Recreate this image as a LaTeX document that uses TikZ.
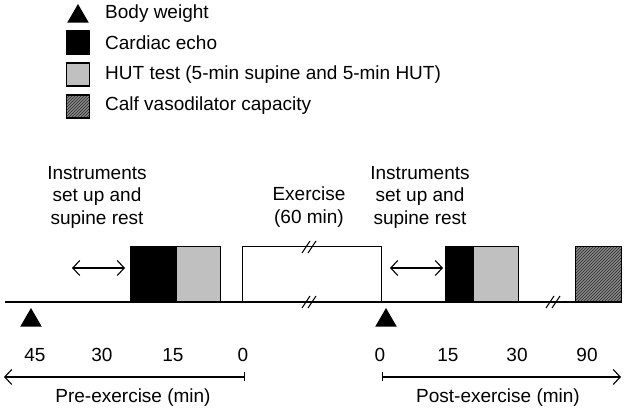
\documentclass[tikz,border=0pt]{standalone}
\usepackage{fontspec}
\setmainfont{Liberation Sans}
\usetikzlibrary{positioning, arrows.meta, shapes.geometric, patterns}
\definecolor{hutGray}{HTML}{C0C0C0}
\definecolor{calfGray}{HTML}{8A8A8A}

\begin{document}
\begin{tikzpicture}[x=1pt, y=-1pt,
  every node/.style={font=\fontsize{19}{22.5}\selectfont},
  box/.style={draw, line width=1.3pt, inner sep=0, minimum height=55, anchor=south west},
  echo/.style={box, fill=black},
  hut/.style={box, fill=hutGray},
  calf/.style={box, preaction={fill=calfGray}, pattern=north east lines, pattern color=black!85},
  bwtri/.style={regular polygon, regular polygon sides=3, fill=black, inner sep=0, minimum size=25},
  legbox/.style={draw, line width=1.3pt, minimum size=23, inner sep=0},
  legtext/.style={anchor=west, inner sep=0},
  note/.style={align=center, inner sep=0},
  dbl/.style={{Straight Barb[length=7pt,width=15pt]}-{Straight Barb[length=7pt,width=15pt]}, line width=1.1pt},
  axisline/.style={line width=1.1pt},
]
\useasboundingbox (0,0) rectangle (630,411);

% Legend
\node[bwtri] (legTri) at (78,16.5) {};
\node[legbox, fill=black] (legEcho) at (78,42.5) {};
\node[legbox, fill=hutGray] (legHut) at (78,74.5) {};
\node[legbox, preaction={fill=calfGray}, pattern=north east lines, pattern color=black!85] (legCalf) at (78,106.5) {};
\node[legtext] (legTriTxt) at (105,14) {Body weight};
\node[legtext] (legEchoTxt) at (105,43) {Cardiac echo};
\node[legtext] (legHutTxt) at (105,75) {HUT test (5-min supine and 5-min HUT)};
\node[legtext] (legCalfTxt) at (105,106) {Calf vasodilator capacity};

% Time line
\coordinate (baseL) at (5,302);
\coordinate (baseR) at (622,302);
\draw[line width=1.3pt] (baseL) -- (baseR);

% Pre-exercise measurements
\node[echo, minimum width=46] (preEcho) at (130,302) {};
\node[hut, minimum width=44] (preHut) at (176,302) {};

% Exercise
\node[box, minimum width=139] (exer) at (242,302) {};

% Post-exercise measurements
\node[echo, minimum width=28] (postEcho) at (445,302) {};
\node[hut, minimum width=45] (postHut) at (473,302) {};
\node[calf, minimum width=46] (calfBox) at (575,302) {};

% Break marks
\foreach \bx/\by in {309/247, 309/302, 553/302} {
  \draw[line width=1pt] (\bx-7,\by+6) -- ++(8,-12);
  \draw[line width=1pt] (\bx-1,\by+6) -- ++(8,-12);
}

% Body weight
\node[bwtri] (bwPre) at (31,320.5) {};
\node[bwtri] (bwPost) at (386,320.5) {};

% Set up and supine rest
\coordinate (preRestL) at (72,268);
\coordinate (preRestR) at (125,268);
\coordinate (postRestL) at (390,268);
\coordinate (postRestR) at (443,268);
\draw[dbl] (preRestL) -- (preRestR);
\draw[dbl] (postRestL) -- (postRestR);

% Labels
\node[note] (preNote) at (97,197) {Instruments\\set up and\\supine rest};
\node[note] (exNote) at (309,207) {Exercise\\(60 min)};
\node[note] (postNote) at (420,197) {Instruments\\set up and\\supine rest};

% Minutes
\foreach \t/\tx in {45/35, 30/102, 15/173, 0/243, 0/380, 15/448, 30/517, 90/587}
  \node (min\tx) at (\tx,355) {\t};

\coordinate (preAxL) at (4,377);
\coordinate (preAxR) at (245,377);
\coordinate (postAxL) at (382,377);
\coordinate (postAxR) at (621,377);
\draw[axisline, {Straight Barb[length=7pt,width=15pt]}-{Bar[width=9pt]}] (preAxL) -- (preAxR);
\draw[axisline, {Bar[width=9pt]}-{Straight Barb[length=7pt,width=15pt]}] (postAxL) -- (postAxR);
\node (preLab) at (133,398) {Pre-exercise (min)};
\node (postLab) at (498,398) {Post-exercise (min)};

\end{tikzpicture}
\end{document}
